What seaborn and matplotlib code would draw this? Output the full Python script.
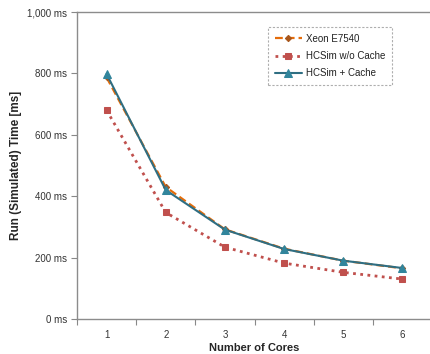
import matplotlib
matplotlib.use("Agg")
import matplotlib.pyplot as plt
import seaborn as sns
import pandas as pd
from matplotlib.ticker import FuncFormatter, FixedLocator

cores = [1, 2, 3, 4, 5, 6]
xeon = [787, 430, 292, 229, 190, 165]
hcsim_nocache = [680, 347, 234, 182, 152, 130]
hcsim_cache = [798, 420, 291, 228, 190, 166]
series_names = ["Xeon E7540", "HCSim w/o Cache", "HCSim + Cache"]

sns.set_theme(style="white")
plt.rcParams['font.family'] = ['Liberation Sans', 'DejaVu Sans']

fig = plt.figure(figsize=(4.30, 3.54), dpi=100)
ax = fig.add_axes([77/430, 1-319/354, 355/430, 307/354])

styles = [
    dict(color="#E46C0A", linestyle=(0, (3.5, 1.8)), linewidth=1.6, marker="D",
         markersize=3.2, markerfacecolor="#A8561C", markeredgecolor="#A8561C"),
    dict(color="#C0504D", linestyle=(0, (1, 1.6)), linewidth=2.0, marker="s",
         markersize=4.5, markerfacecolor="#C0504D", markeredgecolor="#C0504D"),
    dict(color="#2F6E82", linestyle="-", linewidth=1.5, marker="^",
         markersize=5.5, markerfacecolor="#31859C", markeredgecolor="#31859C"),
]
for name, vals, st in zip(series_names, [xeon, hcsim_nocache, hcsim_cache], styles):
    df = pd.DataFrame({"Cores": cores, "Time": vals})
    sns.lineplot(data=df, x="Cores", y="Time", ax=ax, label=name, **st)

ax.set_xlim(0.5, 6.5)
ax.set_ylim(0, 1000)
ax.set_yticks([0, 200, 400, 600, 800, 1000])
ax.yaxis.set_major_formatter(FuncFormatter(lambda v, p: f"{int(v):,} ms"))
ax.set_xticks(cores)
ax.set_xticklabels([str(c) for c in cores])
ax.xaxis.set_minor_locator(FixedLocator([0.5 + i for i in range(7)]))
ax.tick_params(axis="x", which="major", length=0, labelsize=7, pad=8, colors="#333333")
ax.tick_params(axis="x", which="minor", length=4, width=0.8, color="#888888", direction="out", bottom=True)
ax.tick_params(axis="y", which="major", length=4, width=0.8, color="#888888", direction="out", left=True, labelsize=7, pad=3, labelcolor="#333333")

ax.set_xlabel("Number of Cores", fontsize=8, fontweight="bold", labelpad=2)
ax.set_ylabel("Run (Simulated) Time [ms]", fontsize=8.5, fontweight="bold", labelpad=4)

for s in ["left", "bottom", "top"]:
    ax.spines[s].set_color("#8C8C8C")
    ax.spines[s].set_linewidth(1.0)
ax.spines["right"].set_visible(False)
ax.grid(False)

leg = ax.legend(loc="upper left", bbox_to_anchor=((268-77)/355, (319-27)/307),
                fontsize=7, frameon=True, fancybox=False, handlelength=2.8,
                borderpad=0.7, labelspacing=0.75, handletextpad=0.4, borderaxespad=0)
fr = leg.get_frame()
fr.set_edgecolor("#9A9A9A")
fr.set_linestyle((0, (2, 1.5)))
fr.set_linewidth(0.8)
for t in leg.get_texts():
    t.set_color("#222222")

fig.savefig("out.png", dpi=100)
